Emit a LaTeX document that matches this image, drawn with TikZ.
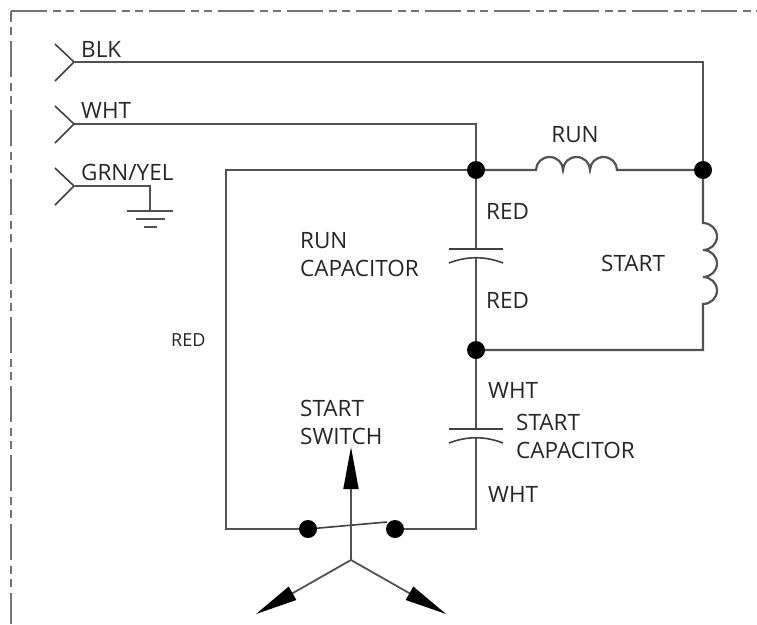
\documentclass[tikz,border=0pt]{standalone}
\usepackage{fontspec}
\setmainfont{Open Sans}
\usetikzlibrary{arrows.meta}
\tikzset{
  wire/.style={draw=black!68,line width=2.2pt},
  thinwire/.style={draw=black!75,line width=1.6pt},
  frameline/.style={draw=black!55,line width=2.2pt,dash pattern=on 36pt off 6pt on 8pt off 5pt on 8pt off 6pt},
  junction/.style={circle,fill=black,inner sep=0pt,minimum size=18pt},
  label/.style={inner sep=0pt,anchor=west,text=black!85,font=\fontsize{22.5}{28}\selectfont,align=left},
  pointer/.style={draw=black!68,line width=1.8pt,-{Triangle[length=42pt,width=15pt,black]}}
}
\begin{document}
\begin{tikzpicture}[x=1pt,y=-1pt]
        \useasboundingbox (0,0) rectangle (757,624);

        \draw[frameline] (11,11) -- (757,11);
        \draw[wire,draw=black!55] (11,11) -- (11,22);
        \draw[frameline,dash phase=55pt] (11,27) -- (11,624);

        \node[junction] (j1) at (476,170) {};
        \node[junction] (j2) at (703,170) {};
        \node[junction] (j3) at (476,350) {};
        \node[junction] (s1) at (308,529) {};
        \node[junction] (s2) at (395,529) {};

        \coordinate (blk) at (74,62);
        \coordinate (wht) at (74,124);
        \coordinate (grn) at (74,186);
        \coordinate (gnd) at (150,211);
        \coordinate (hub) at (351,560);

        \node[label] at (81,49)  {BLK};
        \node[label] at (81,110) {WHT};
        \node[label] at (81,172) {GRN/YEL};
        \node[label,anchor=center] at (575,135) {RUN};
        \node[label] at (486,211) {RED};
        \node[label] at (486,300) {RED};
        \node[label] at (601,263) {START};
        \node[label] at (300,255) {RUN\\CAPACITOR};
        \node[label] at (488,390) {WHT};
        \node[label] at (488,494) {WHT};
        \node[label] at (516,436) {START\\CAPACITOR};
        \node[label] at (300,422) {START\\SWITCH};
        \node[label,font=\fontsize{18}{22}\selectfont] at (171,340) {RED};

        % connectors
        \draw[thinwire] (55,44) -- (blk) -- (55,81);
        \draw[thinwire] (55,106) -- (wht) -- (55,143);
        \draw[thinwire] (55,168) -- (grn) -- (55,205);
        \draw[wire] (blk) -| (j2);
        \draw[wire] (wht) -| (j1);
        \draw[wire] (grn) -| (gnd);
        \draw[wire] (127,211) -- (173,211);
        \draw[wire] (136,219) -- (165,219);
        \draw[wire] (144,227) -- (157,227);

        \draw[wire] (j1) -- (536,170)
          arc[start angle=180,end angle=360,x radius=13.5,y radius=13]
          arc[start angle=180,end angle=360,x radius=13.5,y radius=13]
          arc[start angle=180,end angle=360,x radius=13.5,y radius=13] -- (j2);
        \draw[wire] (j2) -- (703,223)
          arc[start angle=-90,end angle=90,x radius=14,y radius=13.5]
          arc[start angle=-90,end angle=90,x radius=14,y radius=13.5]
          arc[start angle=-90,end angle=90,x radius=14,y radius=13.5] -- (703,350) -- (j3);

        \draw[wire] (j1) -- (476,249);
        \draw[thinwire] (449,249) -- (503,249);
        \draw[thinwire] (449,263) .. controls (467,256) and (485,256) .. (503,263);
        \draw[wire] (476,258) -- (j3);

        \draw[wire] (j3) -- (476,429);
        \draw[thinwire] (449,429) -- (503,429);
        \draw[thinwire] (449,443) .. controls (467,436) and (485,436) .. (503,443);
        \draw[wire] (476,438) -- (476,529) -- (s2);

        \draw[wire] (j1) -- (226,170) -- (226,529) -- (s1);
        \draw[thinwire] (s1) -- (387,522);

        \draw[pointer] (hub) -- (351,447);
        \draw[pointer] (hub) -- (256,614);
        \draw[pointer] (hub) -- (446,614);
      \end{tikzpicture}
\end{document}
